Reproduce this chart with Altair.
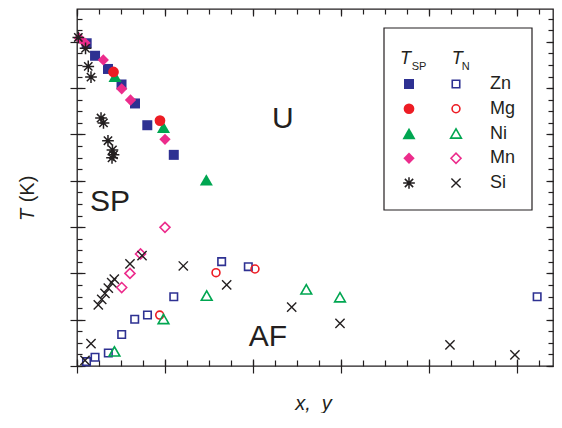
import altair as alt
import pandas as pd

# ---------------- data (x = composition x,y ; y = temperature T in K) -------------
ZN_SP_X = [0.011, 0.0205, 0.0352, 0.0506, 0.0659, 0.0799, 0.110]
ZN_SP_Y = [139.4, 134.0, 128.3, 121.6, 113.4, 104.0, 91.2]
MG_SP_X = [0.0415, 0.0943]
MG_SP_Y = [127.0, 106.0]
NI_SP_X = [0.0432, 0.0983, 0.147]
NI_SP_Y = [125.1, 103.1, 80.4]
MN_SP_X = [0.0026, 0.0091, 0.0299, 0.0508, 0.0608, 0.100]
MN_SP_Y = [141.6, 139.5, 132.2, 119.7, 114.9, 97.9]
SI_SP_X = [0.0015, 0.0097, 0.0128, 0.0159, 0.0273, 0.0301, 0.0352, 0.0403, 0.0415, 0.0398]
SI_SP_Y = [141.9, 137.2, 129.4, 124.8, 107.1, 105.0, 97.3, 93.3, 91.2, 89.9]

ZN_N_X = [0.0108, 0.0205, 0.0356, 0.0508, 0.0656, 0.0801, 0.110, 0.1644, 0.1947, 0.523]
ZN_N_Y = [1.9, 3.8, 5.6, 13.6, 20.2, 22.0, 29.9, 45.1, 42.9, 29.9]
MG_N_X = [0.094, 0.158, 0.2023]
MG_N_Y = [22.0, 40.3, 41.9]
NI_N_X = [0.0426, 0.0983, 0.1474, 0.2606, 0.2989]
NI_N_Y = [6.3, 20.3, 30.4, 33.1, 29.7]
MN_N_X = [0.0508, 0.0602, 0.0722, 0.100]
MN_N_Y = [33.9, 40.0, 48.4, 59.9]
SI_N_X = [0.0091, 0.0159, 0.0242, 0.0281, 0.0318, 0.0356, 0.0394, 0.0424,
          0.0602, 0.0739, 0.1208, 0.1701, 0.244, 0.2989, 0.4239, 0.4977]
SI_N_Y = [2.4, 9.7, 26.4, 28.8, 31.4, 33.6, 36.0, 37.5,
          44.1, 47.7, 43.2, 35.0, 25.4, 18.4, 9.1, 4.8]

REGION_TEXT = ["U", "SP", "AF"]
REGION_X = [0.234, 0.0375, 0.217]
REGION_Y = [106.7, 70.8, 12.5]

ELEMENTS = ["Zn", "Mg", "Ni", "Mn", "Si"]

X_DOMAIN = [0, 0.541]
Y_DOMAIN = [0, 154.2]
X_MAJOR = [0, 0.1, 0.2, 0.3, 0.4, 0.5]
X_MINOR = [round(i * 0.025, 4) for i in range(22)]
Y_MAJOR = [0, 20, 40, 60, 80, 100, 120, 140]
Y_MINOR = [i * 5 for i in range(31)]

# ---------------- styles ----------------
FONT = "Liberation Sans"
INK = "#231f20"
BLUE = "#2e3192"
RED = "#ed1c24"
GREEN = "#00a651"
MAGENTA = "#ec2c8c"
ASTERISK = "M-1,0L1,0M0,-1L0,1M-0.71,-0.71L0.71,0.71M-0.71,0.71L0.71,-0.71"
XMARK = "M-1,-1L1,1M-1,1L1,-1"

W, H = 476, 357
PAD = {"left": 69, "top": 1, "right": 1, "bottom": 47}

XS = alt.Scale(domain=X_DOMAIN, nice=False, zero=False)
YS = alt.Scale(domain=Y_DOMAIN, nice=False, zero=False)

tick_common = dict(domain=False, labels=False, grid=False, tickColor=INK, tickWidth=1.2)

ax_bottom_major = alt.Axis(orient="bottom", values=X_MAJOR, tickSize=14, offset=-7,
                           title="x,\u00a0\u00a0y", titleFont=FONT, titleFontSize=20, titleFontStyle="italic",
                           titleFontWeight="normal", titleColor=INK, titleX=236, titleY=50,
                           titleAlign="center", titleBaseline="alphabetic", **tick_common)
ax_bottom_minor = alt.Axis(orient="bottom", values=X_MINOR, tickSize=6, offset=-6, title=None, **tick_common)
ax_top_major = alt.Axis(orient="top", values=X_MAJOR, tickSize=7, offset=-7, title=None, **tick_common)
ax_top_minor = alt.Axis(orient="top", values=X_MINOR, tickSize=5, offset=-5, title=None, **tick_common)
ax_left_major = alt.Axis(orient="left", values=Y_MAJOR, tickSize=15, offset=-8, title=None, **tick_common)
ax_left_minor = alt.Axis(orient="left", values=Y_MINOR, tickSize=5, offset=-5, title=None, **tick_common)
ax_right_major = alt.Axis(orient="right", values=Y_MAJOR, tickSize=7, offset=-7, title=None, **tick_common)
ax_right_minor = alt.Axis(orient="right", values=Y_MINOR, tickSize=5, offset=-5, title=None, **tick_common)

# series definitions: (xs, ys, shape, color, filled, size, strokeWidth)
SP_SERIES = {
    "Zn": (ZN_SP_X, ZN_SP_Y, "square", BLUE, True, 100, 1),
    "Mg": (MG_SP_X, MG_SP_Y, "circle", RED, True, 115, 1),
    "Ni": (NI_SP_X, NI_SP_Y, "triangle-up", GREEN, True, 170, 1),
    "Mn": (MN_SP_X, MN_SP_Y, "diamond", MAGENTA, True, 128, 1),
    "Si": (SI_SP_X, SI_SP_Y, ASTERISK, INK, False, 137, 1.5),
}
N_SERIES = {
    "Zn": (ZN_N_X, ZN_N_Y, "square", BLUE, False, 56, 1.6),
    "Mg": (MG_N_X, MG_N_Y, "circle", RED, False, 62, 1.6),
    "Ni": (NI_N_X, NI_N_Y, "triangle-up", GREEN, False, 115, 1.6),
    "Mn": (MN_N_X, MN_N_Y, "diamond", MAGENTA, False, 100, 1.6),
    "Si": (SI_N_X, SI_N_Y, XMARK, INK, False, 85, 1.4),
}


def series_layer(spec, xaxis=None, yaxis=None):
    xs, ys, shape, color, filled, size, sw = spec
    df = pd.DataFrame({"x": xs, "y": ys})
    return alt.Chart(df).mark_point(
        shape=shape, color=color, filled=filled, size=size, strokeWidth=sw, opacity=1
    ).encode(
        x=alt.X("x:Q", scale=XS, axis=xaxis),
        y=alt.Y("y:Q", scale=YS, axis=yaxis),
    )


layers = []
axes_pairs = [
    (ax_bottom_major, ax_left_major),
    (ax_bottom_minor, ax_left_minor),
    (ax_top_major, ax_right_major),
    (ax_top_minor, ax_right_minor),
]
# open (T_N) symbols
for i, el in enumerate(["Zn", "Mg", "Ni", "Mn", "Si"]):
    if i < len(axes_pairs):
        layers.append(series_layer(N_SERIES[el], *axes_pairs[i]))
    else:
        layers.append(series_layer(N_SERIES[el]))
# filled (T_SP) symbols
for el in ["Zn", "Ni", "Mg", "Mn", "Si"]:
    layers.append(series_layer(SP_SERIES[el]))

# region labels
region_df = pd.DataFrame({"label": REGION_TEXT, "x": REGION_X, "y": REGION_Y})
layers.append(
    alt.Chart(region_df).mark_text(font=FONT, fontSize=30, color=INK, align="center", baseline="middle")
    .encode(x=alt.X("x:Q", scale=XS, axis=None), y=alt.Y("y:Q", scale=YS, axis=None), text="label:N")
)

one = pd.DataFrame({"k": [0]})

# y-axis title: italic T followed by (K), rotated
for txt, style, cy in (("T", "italic", 206), ("(K)", "normal", 180)):
    layers.append(
        alt.Chart(one).mark_text(font=FONT, fontSize=20, fontStyle=style, color=INK, angle=270,
                                 align="center", baseline="alphabetic")
        .encode(x=alt.value(-43), y=alt.value(cy), text=alt.value(txt))
    )

# ---------------- legend (drawn inside plot, pixel layout) ----------------
LEG_X0, LEG_X1, LEG_Y0, LEG_Y1 = 307, 455, 19, 201
COL_SP, COL_N, COL_LABEL = 332, 379, 413
ROW0, ROW_STEP = 75, 24.75

layers.append(
    alt.Chart(one).mark_rect(filled=False, stroke=INK, strokeWidth=1.2)
    .encode(x=alt.value(LEG_X0), x2=alt.value(LEG_X1), y=alt.value(LEG_Y0), y2=alt.value(LEG_Y1))
)
for i, el in enumerate(ELEMENTS):
    ry = ROW0 + i * ROW_STEP
    for spec, cx in ((SP_SERIES[el], COL_SP), (N_SERIES[el], COL_N)):
        _, _, shape, color, filled, size, sw = spec
        layers.append(
            alt.Chart(one).mark_point(shape=shape, color=color, filled=filled, size=size,
                                      strokeWidth=sw, opacity=1)
            .encode(x=alt.value(cx), y=alt.value(ry))
        )
lab_df = pd.DataFrame({"label": ELEMENTS, "row": list(range(len(ELEMENTS)))})
layers.append(
    alt.Chart(lab_df).transform_calculate(py=f"{ROW0} + datum.row * {ROW_STEP}")
    .mark_text(font=FONT, fontSize=18, color=INK, align="left", baseline="middle")
    .encode(x=alt.value(COL_LABEL), y=alt.Y("py:Q", scale=None, axis=None), text="label:N")
)
# legend headers: T_SP and T_N
for tx, sub, sx in ((323, "SP", 334.7), (374.7, "N", 384.7)):
    layers.append(
        alt.Chart(one).mark_text(font=FONT, fontSize=18, fontStyle="italic", color=INK,
                                 align="left", baseline="alphabetic")
        .encode(x=alt.value(tx), y=alt.value(54.5), text=alt.value("T"))
    )
    layers.append(
        alt.Chart(one).mark_text(font=FONT, fontSize=11, color=INK, align="left", baseline="alphabetic")
        .encode(x=alt.value(sx), y=alt.value(61), text=alt.value(sub))
    )

chart = (
    alt.layer(*layers)
    .resolve_axis(x="independent", y="independent")
    .properties(width=W, height=H, padding=PAD,
                autosize=alt.AutoSizeParams(type="none"),
                background="white")
    .configure_view(stroke=INK, strokeWidth=1.3)
)

chart.save("out.html", embed_options={"renderer": "svg", "actions": False})
